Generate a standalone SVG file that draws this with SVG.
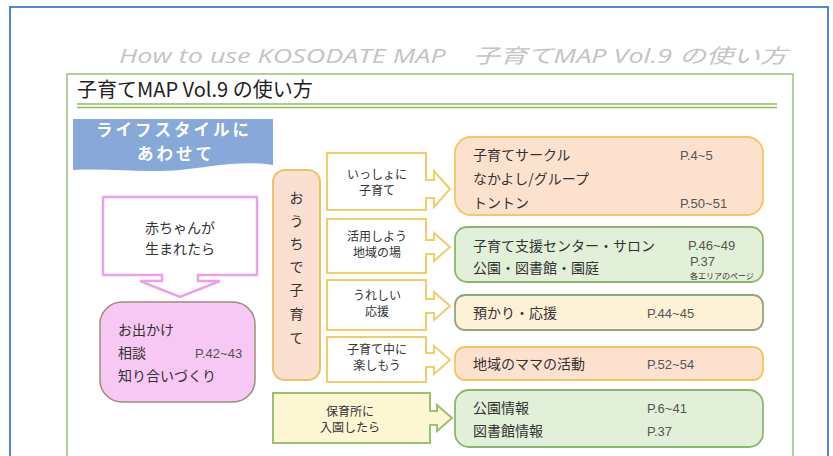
<svg xmlns="http://www.w3.org/2000/svg" width="833" height="456" viewBox="0 0 833 456">
<style>
.jp{font-family:"Noto Sans CJK JP","Noto Sans",sans-serif;fill:#333;}
.t14{font-size:14px;}
.t12{font-size:12px;}
.pg{font-family:"Liberation Sans","DejaVu Sans",sans-serif;font-size:13px;fill:#555;}
.call{fill:#ffffff;stroke:#efcf6a;stroke-width:2;}
.peach{fill:#fde1cf;stroke:#f0c860;stroke-width:1.8;}
.green{fill:#e3f0d9;stroke:#8db56e;stroke-width:1.8;}
.ctr{text-anchor:middle;}
.ban{font-family:"Noto Sans CJK JP",sans-serif;font-size:16.5px;font-weight:bold;fill:#ffffff;letter-spacing:3px;text-anchor:middle;}
</style>
<rect x="0" y="0" width="833" height="456" fill="#ffffff"/>
<rect x="10" y="7" width="818" height="470" fill="none" stroke="#4f86d6" stroke-width="2"/>
<text x="787" y="63" text-anchor="end" font-family="Open Sans,'Noto Sans CJK JP',sans-serif" font-style="italic" font-size="20" fill="#c4c4c4" textLength="668" lengthAdjust="spacingAndGlyphs">How to use KOSODATE MAP　子育てMAP Vol.9 の使い方</text>
<rect x="67" y="74" width="726" height="400" fill="none" stroke="#9cc07a" stroke-width="1.5"/>
<text x="77" y="97" font-family="'Noto Sans CJK JP',sans-serif" font-size="20" fill="#222">子育てMAP Vol.9 の使い方</text>
<line x1="77" y1="104" x2="777" y2="104" stroke="#8fbc5a" stroke-width="1.5"/>
<line x1="77" y1="107.5" x2="777" y2="107.5" stroke="#8fbc5a" stroke-width="1.5"/>
<g id="banner">
<path d="M73,119 H273 V165 C240,160 210,167 180,170 C140,173 110,168 73,170 Z" fill="#88a8da"/>
<text x="174" y="136" class="ban">ライフスタイルに</text>
<text x="176" y="160" class="ban">あわせて</text>
</g>
<g id="baby">
<path d="M103,197 H257 V275 H198 V281 H220 L180,297 L140,281 H162 V275 H103 Z" fill="#ffffff" stroke="#eaa0ea" stroke-width="2.5"/>
<text x="180" y="233" class="jp t14 ctr">赤ちゃんが</text>
<text x="180" y="254" class="jp t14 ctr">生まれたら</text>
</g>
<g id="outing">
<rect x="100" y="302" width="155" height="100" rx="22" fill="#f8c8f4" stroke="#9c8c80" stroke-width="1.5"/>
<text x="118" y="335" class="jp t14">お出かけ</text>
<text x="118" y="358" class="jp t14">相談</text>
<text x="195" y="358" class="pg" font-size="12">P.42~43</text>
<text x="118" y="381" class="jp t14">知り合いづくり</text>
</g>
<g id="home">
<rect x="273" y="170" width="47" height="210" rx="12" fill="#fbdfd0" stroke="#ebc46a" stroke-width="2"/>
<text x="296.5" y="203" class="jp t14 ctr">お</text>
<text x="296.5" y="226" class="jp t14 ctr">う</text>
<text x="296.5" y="249" class="jp t14 ctr">ち</text>
<text x="296.5" y="272" class="jp t14 ctr">で</text>
<text x="296.5" y="295" class="jp t14 ctr">子</text>
<text x="296.5" y="319" class="jp t14 ctr">育</text>
<text x="296.5" y="343" class="jp t14 ctr">て</text>
</g>
<g id="connectors"></g>
<g id="c1">
<path class="call" d="M327,153 H426 V180 H434 V171 L450,189 L434,207 V198 H426 V210 H327 Z"/>
<text x="377" y="179" class="jp t12 ctr">いっしょに</text>
<text x="377" y="195" class="jp t12 ctr">子育て</text>
</g>
<g id="c2">
<path class="call" d="M327,219 H426 V240 H434 V233 L450,247 L434,261 V254 H426 V273 H327 Z"/>
<text x="377" y="241" class="jp t12 ctr">活用しよう</text>
<text x="377" y="257" class="jp t12 ctr">地域の場</text>
</g>
<g id="c3">
<path class="call" d="M327,280 H426 V299 H434 V292 L450,306 L434,320 V313 H426 V330 H327 Z"/>
<text x="377" y="300" class="jp t12 ctr">うれしい</text>
<text x="377" y="316" class="jp t12 ctr">応援</text>
</g>
<g id="c4">
<path class="call" d="M327,337 H426 V353 H434 V346 L450,360 L434,374 V367 H426 V382 H327 Z"/>
<text x="377" y="354" class="jp t12 ctr">子育て中に</text>
<text x="377" y="370" class="jp t12 ctr">楽しもう</text>
</g>
<g id="c5">
<path d="M273,393 H430 V411 H437 V405 L452,418 L437,431 V425 H430 V443 H273 Z" fill="#fdf6d3" stroke="#9cc070" stroke-width="2"/>
<text x="350" y="416" class="jp t12 ctr">保育所に</text>
<text x="350" y="432" class="jp t12 ctr">入園したら</text>
</g>
<g id="b1">
<rect class="peach" x="455" y="137" width="308" height="78" rx="16"/>
<text x="473" y="160" class="jp t14">子育てサークル</text>
<text x="680" y="160" class="pg">P.4~5</text>
<text x="473" y="184" class="jp t14">なかよし/グループ</text>
<text x="473" y="208" class="jp t14">トントン</text>
<text x="680" y="208" class="pg">P.50~51</text>
</g>
<g id="b2">
<rect class="green" x="455" y="227" width="308" height="55" rx="12"/>
<text x="473" y="251" class="jp t14">子育て支援センター・サロン</text>
<text x="688" y="250" class="pg" font-size="11">P.46~49</text>
<text x="473" y="273" class="jp t14">公園・図書館・園庭</text>
<text x="690" y="266" class="pg" font-size="12">P.37</text>
<text x="690" y="279" class="jp" font-size="8" fill="#555">各エリアのページ</text>
</g>
<g id="b3">
<rect x="455" y="295" width="308" height="35" rx="10" fill="#fdf1d8" stroke="#8fa878" stroke-width="1.8"/>
<text x="473" y="318" class="jp t14">預かり・応援</text>
<text x="647" y="318" class="pg">P.44~45</text>
</g>
<g id="b4">
<rect class="peach" x="455" y="347" width="308" height="33" rx="10"/>
<text x="473" y="369" class="jp t14">地域のママの活動</text>
<text x="647" y="369" class="pg">P.52~54</text>
</g>
<g id="b5">
<rect class="green" x="455" y="390" width="308" height="57" rx="14"/>
<text x="473" y="413" class="jp t14">公園情報</text>
<text x="647" y="413" class="pg">P.6~41</text>
<text x="473" y="436" class="jp t14">図書館情報</text>
<text x="647" y="436" class="pg">P.37</text>
</g>
</svg>
